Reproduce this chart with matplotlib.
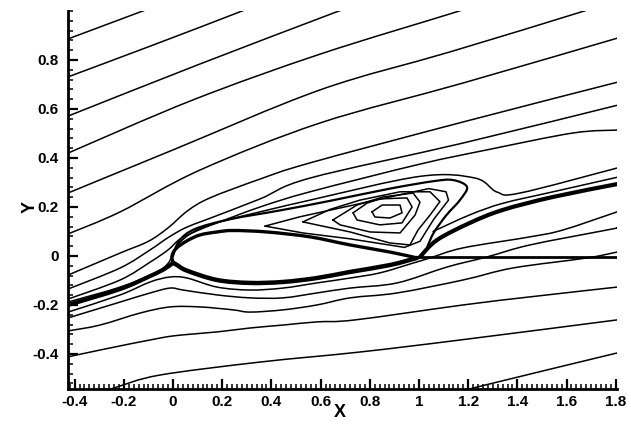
import matplotlib
matplotlib.use("Agg")
import matplotlib.pyplot as plt
from matplotlib.ticker import MultipleLocator, FixedLocator
from matplotlib.path import Path
from matplotlib.patches import PathPatch
import numpy as np

plt.rcParams['font.family'] = ['Liberation Sans', 'DejaVu Sans']

# ---- streamlines (x, y) in chord units ----
line_a = [(-0.427, 0.886), (-0.134, 0.996), (-0.12, 1.002)]
line_b = [(-0.427, 0.731), (-0.081, 0.861), (0.26, 0.992), (0.28, 1.002)]
line_c = [(-0.427, 0.571), (0.10, 0.78), (0.598, 0.971), (0.68, 1.002)]
line_d = [(-0.427, 0.420), (0.081, 0.637), (0.598, 0.824), (1.138, 0.992), (1.16, 1.002)]
line_e = [(-0.427, 0.257), (0.0, 0.433), (0.598, 0.678), (1.126, 0.833), (1.646, 0.992), (1.67, 1.002)]
line_f = [(-0.427, 0.090), (-0.215, 0.180), (0.110, 0.351), (0.598, 0.543),
          (1.179, 0.706), (1.809, 0.890)]
line_g = [(-0.427, -0.078), (-0.215, 0.012), (-0.10, 0.060), (-0.02, 0.115), (0.06, 0.185),
          (0.150, 0.237), (0.354, 0.314), (0.557, 0.380), (1.179, 0.547), (1.809, 0.710)]
line_h = [(-0.427, -0.135), (-0.215, -0.049), (-0.093, 0.025), (-0.02, 0.075), (0.05, 0.115),
          (0.140, 0.150), (0.354, 0.233), (0.557, 0.318), (1.179, 0.461), (1.809, 0.616)]
line_i = [(-0.427, -0.176), (-0.215, -0.098), (-0.093, -0.025), (-0.02, 0.025), (0.03, 0.070),
          (0.110, 0.108), (0.179, 0.135), (0.354, 0.200), (0.557, 0.262), (1.004, 0.375),
          (1.276, 0.433), (1.626, 0.502), (1.809, 0.514)]
line_j = [(-0.427, -0.188), (-0.215, -0.127), (-0.073, -0.069), (-0.020, -0.030), (0.004, 0.020),
          (0.041, 0.068), (0.110, 0.112), (0.232, 0.150), (0.557, 0.228), (1.004, 0.325),
          (1.228, 0.318), (1.317, 0.261), (1.411, 0.257), (1.809, 0.360)]

# lower side
line_2 = [(-0.427, -0.229), (-0.215, -0.159), (-0.093, -0.106), (-0.012, -0.086), (0.057, -0.090),
          (0.179, -0.127), (0.313, -0.139), (0.447, -0.131), (0.585, -0.110), (0.720, -0.090),
          (0.841, -0.069), (0.976, -0.029), (1.045, -0.008), (1.179, 0.033), (1.451, 0.078),
          (1.585, 0.106), (1.805, 0.180)]
line_3 = [(-0.427, -0.253), (-0.215, -0.188), (-0.093, -0.151), (-0.012, -0.131), (0.041, -0.139),
          (0.179, -0.159), (0.313, -0.171), (0.447, -0.171), (0.585, -0.151), (0.720, -0.131),
          (0.911, -0.110), (1.114, -0.045), (1.276, -0.004), (1.451, 0.045), (1.764, 0.106),
          (1.805, 0.114)]
line_4 = [(-0.427, -0.306), (-0.297, -0.282), (-0.134, -0.233), (-0.012, -0.208), (0.110, -0.208),
          (0.244, -0.220), (0.313, -0.229), (0.447, -0.220), (0.585, -0.200), (0.720, -0.171),
          (0.911, -0.151), (1.179, -0.098), (1.382, -0.049), (1.683, -0.008), (1.805, 0.016)]
line_5 = [(-0.427, -0.412), (-0.297, -0.384), (-0.053, -0.335), (0.041, -0.322), (0.179, -0.310),
          (0.313, -0.294), (0.447, -0.282), (0.585, -0.269), (0.740, -0.261), (1.179, -0.200),
          (1.451, -0.167), (1.805, -0.127)]
line_6 = [(-0.26, -0.548), (-0.228, -0.535), (-0.053, -0.486), (0.354, -0.433), (0.760, -0.392),
          (1.167, -0.343), (1.805, -0.261)]
line_7 = [(1.20, -0.548), (1.236, -0.535), (1.805, -0.396)]
# thin line riding just above the wake
wake_upper = [(1.057, 0.100), (1.207, 0.168), (1.341, 0.215), (1.545, 0.262), (1.809, 0.322)]

thin_lines = [line_a, line_b, line_c, line_d, line_e, line_f, line_g, line_h, line_i, line_j,
              line_2, line_3, line_4, line_5, line_6, line_7, wake_upper]

# dividing streamline from upstream to leading edge
stagnation = [(-0.427, -0.200), (-0.215, -0.135), (-0.093, -0.082), (-0.033, -0.052), (0.0, -0.028)]

# closed body of the bubble
body_upper = [(0.0, -0.028), (-0.004, 0.0), (0.012, 0.030), (0.057, 0.062), (0.110, 0.086),
              (0.179, 0.098), (0.244, 0.104), (0.382, 0.098), (0.557, 0.078), (0.720, 0.045),
              (0.882, 0.016), (0.992, -0.008)]
body_lower = [(0.992, -0.008), (0.882, -0.037), (0.720, -0.065), (0.585, -0.090), (0.447, -0.106),
              (0.313, -0.110), (0.179, -0.098), (0.057, -0.060), (0.015, -0.036), (0.0, -0.028)]

# separating streamline over the recirculation zone, closing onto the wake
separatrix = [(0.0, 0.0), (0.025, 0.062), (0.089, 0.110), (0.232, 0.150), (0.435, 0.186),
              (0.638, 0.225), (0.882, 0.275), (1.057, 0.305), (1.138, 0.310), (1.195, 0.282),
              (1.167, 0.229), (1.110, 0.165), (1.060, 0.095), (1.035, 0.040)]

# wake line from trailing edge
wake = [(1.004, -0.004), (1.073, 0.065), (1.207, 0.135), (1.341, 0.188), (1.545, 0.241), (1.809, 0.294)]
cut_line = [(1.0, -0.005), (1.805, -0.005)]

# recirculation contours
vortex_1 = [(0.809, 0.180), (0.850, 0.208), (0.923, 0.208), (0.931, 0.176), (0.882, 0.155),
            (0.821, 0.159), (0.809, 0.180)]
vortex_2 = [(0.732, 0.176), (0.789, 0.216), (0.841, 0.233), (0.951, 0.237), (0.972, 0.200),
            (0.931, 0.135), (0.841, 0.127), (0.748, 0.147), (0.732, 0.176)]
vortex_3 = [(0.650, 0.147), (0.748, 0.208), (0.854, 0.241), (0.976, 0.257), (1.004, 0.220),
            (0.984, 0.167), (0.923, 0.094), (0.801, 0.098), (0.679, 0.127), (0.650, 0.147)]
vortex_4 = [(0.528, 0.139), (0.638, 0.190), (0.760, 0.228), (0.923, 0.262), (1.045, 0.262),
            (1.085, 0.222), (1.045, 0.167), (0.996, 0.106), (0.963, 0.045), (0.882, 0.053),
            (0.720, 0.098), (0.528, 0.139)]
vortex_5 = [(0.374, 0.122), (0.516, 0.160), (0.720, 0.205), (0.923, 0.250), (1.040, 0.275),
            (1.110, 0.262), (1.120, 0.228), (1.060, 0.150), (1.004, 0.060), (0.941, 0.035),
            (0.720, 0.070), (0.528, 0.094), (0.374, 0.122)]
vortices = [vortex_1, vortex_2, vortex_3, vortex_4, vortex_5]

xticks = [-0.4, -0.2, 0.0, 0.2, 0.4, 0.6, 0.8, 1.0, 1.2, 1.4, 1.6, 1.8]
xtick_labels = ["-0.4", "-0.2", "0", "0.2", "0.4", "0.6", "0.8", "1", "1.2", "1.4", "1.6", "1.8"]
yticks = [-0.4, -0.2, 0.0, 0.2, 0.4, 0.6, 0.8]
ytick_labels = ["-0.4", "-0.2", "0", "0.2", "0.4", "0.6", "0.8"]

fig = plt.figure(figsize=(6.31, 4.24), dpi=100)
ax = fig.add_axes([68 / 631, 35 / 424, 549 / 631, 378 / 424])


def smooth_path(pts):
    """Cubic Bezier path passing through every point (Catmull-Rom tangents)."""
    p = np.array(pts, dtype=float)
    verts = [p[0]]
    codes = [Path.MOVETO]
    n = len(p)
    for k in range(n - 1):
        p0 = p[k - 1] if k > 0 else p[k]
        p1, p2 = p[k], p[k + 1]
        p3 = p[k + 2] if k + 2 < n else p[k + 1]
        c1 = p1 + (p2 - p0) / 6.0
        c2 = p2 - (p3 - p1) / 6.0
        verts += [c1, c2, p2]
        codes += [Path.CURVE4] * 3
    return Path(verts, codes)


def draw(pts, lw, smooth=True):
    if smooth:
        patch = PathPatch(smooth_path(pts), facecolor="none", edgecolor="black", lw=lw,
                          joinstyle="round", capstyle="round")
        ax.add_patch(patch)
    else:
        arr = np.array(pts)
        ax.plot(arr[:, 0], arr[:, 1], color="black", lw=lw, solid_joinstyle="round",
                solid_capstyle="round")


for ln in thin_lines:
    draw(ln, 1.1)
for v in vortices:
    draw(v, 1.1, smooth=False)
draw(stagnation, 3.0)
draw(body_upper, 2.4)
draw(body_lower, 3.2)
draw(separatrix, 1.6)
draw(wake, 3.0)
draw(cut_line, 2.0, smooth=False)

ax.set_xlim(-0.427, 1.805)
ax.set_ylim(-0.543, 1.0)

for side in ("top", "right"):
    ax.spines[side].set_visible(False)
for side in ("left", "bottom"):
    ax.spines[side].set_linewidth(2.0)

ax.xaxis.set_major_locator(FixedLocator(xticks))
ax.set_xticklabels(xtick_labels)
ax.yaxis.set_major_locator(FixedLocator(yticks))
ax.set_yticklabels(ytick_labels)
ax.xaxis.set_minor_locator(MultipleLocator(0.02))
ax.yaxis.set_minor_locator(MultipleLocator(0.04))
ax.tick_params(which="major", direction="in", length=7, width=1.6)
ax.tick_params(which="minor", direction="in", length=3.5, width=1.1)
ax.tick_params(axis="x", which="major", pad=4)
ax.tick_params(axis="y", which="major", pad=6.5)
for lbl in ax.get_xticklabels() + ax.get_yticklabels():
    lbl.set_fontweight("bold")
    lbl.set_fontsize(11)

ax.set_xlabel("X", fontsize=13, fontweight="bold")
ax.xaxis.set_label_coords(0.495, -0.061)
ax.xaxis.label.set_verticalalignment("center")
ax.set_ylabel("Y", fontsize=13, fontweight="bold")
ax.yaxis.set_label_coords(-0.069, 0.481)
ax.yaxis.label.set_verticalalignment("center")

fig.savefig("out.png", dpi=100)
